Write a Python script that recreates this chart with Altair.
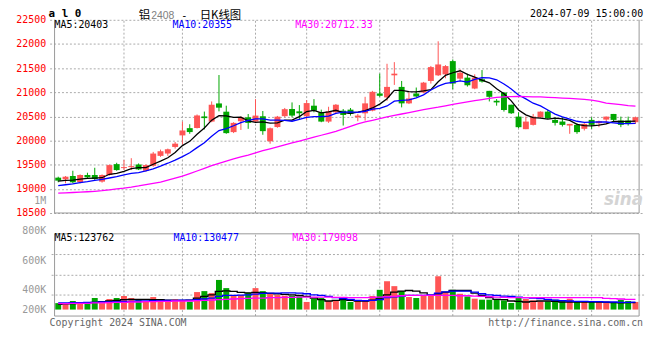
import altair as alt
import pandas as pd

# ---------------- data ----------------
dates = ["03-12", "03-13", "03-14", "03-15", "03-18", "03-19", "03-20", "03-21", "03-22", "03-25",
         "03-26", "03-27", "03-28", "03-29", "04-01", "04-02", "04-03", "04-08", "04-09", "04-10",
         "04-11", "04-12", "04-15", "04-16", "04-17", "04-18", "04-19", "04-22", "04-23", "04-24",
         "04-25", "04-26", "04-29", "04-30", "05-06", "05-07", "05-08", "05-09", "05-10", "05-13",
         "05-14", "05-15", "05-16", "05-17", "05-20", "05-21", "05-22", "05-23", "05-24", "05-27",
         "05-28", "05-29", "05-30", "05-31", "06-03", "06-04", "06-05", "06-06", "06-07", "06-11",
         "06-12", "06-13", "06-14", "06-17", "06-18", "06-19", "06-20", "06-21", "06-24", "06-25",
         "06-26", "06-27", "06-28", "07-01", "07-02", "07-03", "07-04", "07-05", "07-08", "07-09"]

opens = [19232, 19198, 19266, 19136, 19287, 19287, 19150, 19287, 19512, 19430,
         19450, 19505, 19375, 19478, 19683, 19731, 19868, 20107, 20257, 20260,
         20500, 20393, 20769, 20598, 20175, 20400, 20482, 20393, 20503, 19985,
         20280, 20505, 20653, 20605, 20503, 20722, 20585, 20393, 20585, 20619,
         20640, 20482, 20564, 20619, 20975, 20893, 21351, 21111, 20770, 20975,
         20995, 21234, 21351, 21371, 21645, 21282, 21303, 21077, 21269, 21029,
         20824, 20995, 20742, 20496, 20236, 20325, 20482, 20599, 20428, 20394,
         20311, 20325, 20243, 20428, 20359, 20434, 20551, 20414, 20414, 20380]
highs = [19252, 19266, 19375, 19300, 19334, 19437, 19300, 19505, 19540, 19600,
         19635, 19526, 19505, 19765, 19813, 19834, 19970, 20393, 20338, 20540,
         20600, 20810, 21357, 20722, 20380, 20500, 20550, 20858, 20612, 20270,
         20510, 20675, 20790, 20735, 20838, 20858, 20640, 20700, 20756, 20653,
         20674, 20551, 20906, 21029, 21385, 21590, 21624, 21234, 20995, 21098,
         21214, 21545, 22055, 21562, 21679, 21474, 21385, 21371, 21460, 21029,
         20858, 21000, 20742, 20585, 20496, 20551, 20605, 20633, 20482, 20482,
         20345, 20360, 20360, 20482, 20414, 20496, 20551, 20496, 20496, 20496]
lows = [19136, 19115, 19115, 19115, 19218, 19184, 19129, 19273, 19375, 19389,
        19389, 19389, 19355, 19457, 19663, 19683, 19834, 19920, 20140, 20250,
        20230, 20380, 20605, 20140, 20155, 20220, 20243, 20380, 20120, 19935,
        20265, 20482, 20482, 20435, 20428, 20585, 20380, 20366, 20564, 20311,
        20517, 20400, 20414, 20605, 20906, 20824, 21152, 20687, 20756, 20900,
        20981, 21180, 21337, 21289, 21063, 21234, 21118, 21063, 21200, 20810,
        20722, 20600, 20551, 20257, 20236, 20311, 20470, 20448, 20311, 20291,
        20140, 20140, 20209, 20243, 20277, 20345, 20400, 20277, 20311, 20345]
closes = [19170, 19252, 19136, 19287, 19239, 19204, 19287, 19492, 19389, 19450,
          19471, 19403, 19492, 19731, 19779, 19820, 19936, 20209, 20176, 20520,
          20465, 20742, 20681, 20154, 20366, 20480, 20366, 20517, 20195, 20255,
          20495, 20650, 20517, 20565, 20776, 20619, 20393, 20605, 20742, 20530,
          20551, 20517, 20770, 21009, 20927, 21111, 21385, 20770, 20872, 20913,
          21200, 21521, 21576, 21542, 21180, 21405, 21145, 21303, 21221, 20906,
          20790, 20633, 20565, 20277, 20393, 20496, 20599, 20462, 20366, 20325,
          20345, 20175, 20345, 20325, 20400, 20496, 20428, 20325, 20345, 20482]

ma5 = [19160, 19175, 19180, 19200, 19217, 19224, 19231, 19302, 19322, 19364,
       19418, 19441, 19441, 19509, 19575, 19645, 19752, 19895, 19984, 20132,
       20261, 20422, 20517, 20512, 20482, 20485, 20409, 20377, 20385, 20363,
       20366, 20422, 20422, 20496, 20601, 20625, 20574, 20592, 20627, 20578,
       20564, 20589, 20622, 20675, 20755, 20867, 21040, 21040, 21013, 21010,
       21028, 21055, 21216, 21350, 21404, 21445, 21370, 21315, 21251, 21196,
       21073, 20971, 20823, 20634, 20532, 20473, 20466, 20445, 20463, 20450,
       20419, 20335, 20311, 20303, 20318, 20348, 20399, 20395, 20399, 20403]
ma10 = [19065, 19085, 19105, 19130, 19150, 19175, 19195, 19225, 19255, 19291,
        19321, 19336, 19371, 19416, 19470, 19531, 19596, 19668, 19747, 19854,
        19953, 20087, 20206, 20248, 20307, 20373, 20416, 20447, 20449, 20422,
        20425, 20416, 20400, 20441, 20482, 20496, 20498, 20507, 20562, 20589,
        20595, 20582, 20607, 20651, 20666, 20716, 20815, 20831, 20844, 20883,
        20947, 21048, 21128, 21182, 21207, 21236, 21212, 21266, 21301, 21300,
        21259, 21170, 21069, 20943, 20864, 20773, 20718, 20634, 20549, 20491,
        20446, 20400, 20378, 20383, 20384, 20384, 20367, 20353, 20351, 20355]
ma30 = [18910, 18918, 18925, 18932, 18940, 18950, 18962, 18980, 19000, 19015,
        19035, 19060, 19090, 19115, 19140, 19180, 19220, 19262, 19315, 19370,
        19425, 19480, 19530, 19575, 19620, 19660, 19700, 19745, 19790, 19830,
        19870, 19910, 19950, 19990, 20030, 20070, 20110, 20150, 20190, 20240,
        20295, 20345, 20385, 20420, 20455, 20490, 20520, 20550, 20580, 20610,
        20640, 20665, 20690, 20720, 20750, 20775, 20800, 20825, 20850, 20875,
        20895, 20905, 20910, 20912, 20910, 20905, 20905, 20895, 20888, 20880,
        20872, 20865, 20855, 20835, 20810, 20775, 20760, 20745, 20725, 20712]

volumes = [114000, 96000, 152000, 131000, 102000, 205000, 114000, 187000, 205000, 240000,
           205000, 175000, 152000, 222000, 158000, 152000, 184000, 166000, 140000, 310000,
           327000, 292000, 525000, 380000, 248000, 257000, 298000, 380000, 327000, 292000,
           257000, 245000, 245000, 236000, 135000, 189000, 205000, 152000, 152000, 205000,
           135000, 152000, 170000, 240000, 350000, 502000, 415000, 327000, 222000, 205000,
           250000, 250000, 590000, 310000, 350000, 280000, 233000, 193000, 175000, 175000,
           175000, 163000, 117000, 205000, 187000, 163000, 145000, 145000, 175000, 145000,
           193000, 145000, 145000, 145000, 135000, 145000, 135000, 175000, 152000, 135000]
vma5 = [93000, 99000, 105000, 111000, 117000, 128000, 140000, 152000, 163000, 175000,
        181000, 181000, 181000, 175000, 175000, 169000, 163000, 163000, 169000, 204000,
        233000, 262000, 321000, 332000, 321000, 303000, 297000, 303000, 297000, 286000,
        280000, 268000, 262000, 251000, 233000, 204000, 175000, 152000, 163000, 175000,
        163000, 152000, 152000, 169000, 204000, 262000, 309000, 327000, 338000, 327000,
        297000, 251000, 280000, 309000, 338000, 338000, 338000, 292000, 251000, 210000,
        181000, 175000, 152000, 146000, 134000, 146000, 152000, 152000, 146000, 134000,
        134000, 134000, 134000, 134000, 134000, 128000, 123000, 117000, 123000, 123762]
vma10 = [117000, 117000, 122000, 122000, 128000, 128000, 134000, 134000, 140000, 146000,
         146000, 152000, 152000, 157000, 157000, 163000, 163000, 169000, 169000, 175000,
         187000, 204000, 233000, 251000, 251000, 257000, 262000, 274000, 286000, 292000,
         292000, 297000, 297000, 292000, 280000, 262000, 251000, 233000, 210000, 192000,
         181000, 163000, 157000, 163000, 175000, 210000, 227000, 239000, 251000, 251000,
         251000, 262000, 292000, 315000, 327000, 327000, 327000, 309000, 280000, 262000,
         251000, 239000, 233000, 222000, 210000, 204000, 192000, 181000, 169000, 157000,
         152000, 146000, 146000, 140000, 140000, 134000, 134000, 128000, 128000, 130477]
vma30 = [105000, 105000, 111000, 111000, 111000, 117000, 117000, 122000, 128000, 128000,
         134000, 134000, 140000, 140000, 146000, 146000, 152000, 152000, 152000, 157000,
         163000, 169000, 175000, 181000, 187000, 192000, 198000, 204000, 204000, 210000,
         210000, 216000, 216000, 222000, 222000, 222000, 222000, 222000, 216000, 216000,
         210000, 210000, 210000, 216000, 222000, 227000, 233000, 245000, 251000, 251000,
         251000, 251000, 251000, 251000, 251000, 245000, 245000, 239000, 233000, 227000,
         222000, 216000, 210000, 210000, 210000, 210000, 210000, 210000, 210000, 210000,
         210000, 210000, 210000, 210000, 210000, 198000, 192000, 187000, 181000, 179098]

tick_dates = ["03-12", "03-25", "04-08", "04-22", "05-06", "05-20", "06-03", "06-17", "07-01"]
price_ticks = [18500, 19000, 19500, 20000, 20500, 21000, 21500, 22000, 22500]
period_text = "1M"
period_at = 18750
vol_tick_text = ["800K", "600K", "400K", "200K"]
vol_tick_at = [1342000, 817000, 304500, -45500]
vol_grid_at = [975000, 607000, 257000]
price_domain = [18500, 22500]
vol_domain = [-115000, 1342000]

price_ma_text = ["MA5:20403", "MA10:20355", "MA30:20712.33"]
vol_ma_text = ["MA5:123762", "MA10:130477", "MA30:179098"]
header_code = "a l 0"
title_a, title_b, title_c, title_d = "铝", "2408", "-", "日K线图"
stamp = "2024-07-09 15:00:00"
copyright_text = "Copyright 2024 SINA.COM"
url_text = "http://finance.sina.com.cn"

# ---------------- styling ----------------
RED, GREEN = "#FF5555", "#00A600"
BLUE_LINE, MAG = "#0000FF", "#FF00FF"
GRID, FRAME = "#aaaaaa", "#999999"
MONO = "DejaVu Sans Mono"
CJK = "Noto Sans CJK SC"
W, H = 600, 299
P_TOP, P_BOT = 0, 195
V_TOP, V_BOT = 216, 299

n = len(dates)
df = pd.DataFrame({
    "i": list(range(n)), "date": dates, "open": opens, "high": highs, "low": lows,
    "close": closes, "vol": volumes, "ma5": ma5, "ma10": ma10, "ma30": ma30,
    "vma5": vma5, "vma10": vma10, "vma30": vma30,
})
df["dir"] = ["up" if c >= o else "down" for o, c in zip(opens, closes)]
tick_idx = [dates.index(d) for d in tick_dates]

xs = alt.Scale(domain=[-0.5, n - 0.5], nice=False, zero=False)
ps = alt.Scale(domain=price_domain, range=[P_BOT, P_TOP], nice=False, zero=False)
vs = alt.Scale(domain=vol_domain, range=[V_BOT, V_TOP], nice=False, zero=False)
color = alt.Color("dir:N", scale=alt.Scale(domain=["up", "down"], range=[RED, GREEN]), legend=None)
xnone = alt.X("i:Q", scale=xs, axis=None)

label_expr = "[" + ",".join("'%s'" % d for d in dates) + "][datum.value]"
x_axis = alt.Axis(values=tick_idx, labelExpr=label_expr, offset=P_BOT - H, domain=False,
                  ticks=False, tickSize=0, grid=False, labelColor="#0066CC", labelFont=MONO,
                  labelFontSize=10, labelPadding=3, labelAngle=0, labelFlush=False,
                  labelOverlap=False, title=None)
p_axis = alt.Axis(values=price_ticks + [period_at], format="d",
                  labelExpr="datum.value == %d ? '%s' : datum.label" % (period_at, period_text),
                  orient="left", domain=False, ticks=False, tickSize=0, grid=True,
                  gridColor=GRID, gridDash=[2, 2],
                  gridOpacity={"condition": {"test": "datum.value == %d" % period_at, "value": 0}, "value": 1},
                  labelColor={"condition": {"test": "datum.value == %d" % period_at, "value": "#999999"}, "value": "#FF0000"},
                  labelFont=MONO, labelFontSize=10, labelPadding=4, labelFlush=False,
                  labelOverlap=False, title=None)
v_expr = " : ".join("datum.value == %d ? '%s'" % (v, t) for v, t in zip(vol_tick_at, vol_tick_text)) + " : ''"
v_axis = alt.Axis(values=vol_tick_at, labelExpr=v_expr, orient="left", domain=False, ticks=False,
                  tickSize=0, grid=False, labelColor="#999999", labelFont=MONO, labelFontSize=10,
                  labelPadding=4, labelBaseline="alphabetic", labelFlush=False, labelOverlap=False,
                  title=None)

base = alt.Chart(df)

# grid lines
gp = pd.DataFrame({"i": tick_idx[1:], "lo": price_domain[0], "hi": price_domain[1]})
vgrid_p = alt.Chart(gp).mark_rule(color=GRID, strokeDash=[2, 2], strokeWidth=1).encode(
    x=xnone, y=alt.Y("lo:Q", scale=ps, axis=None), y2="hi:Q")
gv = pd.DataFrame({"i": tick_idx[1:], "lo": vol_domain[0], "hi": vol_domain[1]})
vgrid_v = alt.Chart(gv).mark_rule(color=GRID, strokeDash=[2, 2], strokeWidth=1).encode(
    x=xnone, y=alt.Y("lo:Q", scale=vs, axis=None), y2="hi:Q")
hgrid_v = alt.Chart(pd.DataFrame({"v": vol_grid_at})).mark_rule(
    color=GRID, strokeDash=[2, 2], strokeWidth=1).encode(y=alt.Y("v:Q", scale=vs, axis=None))

# panel frames (price panel: left, right and bottom solid; top is the dotted grid line)
lo_p, hi_p = price_domain
fp = pd.DataFrame({"x0": [-0.5, n - 0.5, -0.5], "x1": [-0.5, n - 0.5, n - 0.5],
                   "y0": [lo_p, lo_p, lo_p], "y1": [hi_p, hi_p, lo_p]})
frame_p = alt.Chart(fp).mark_rule(color=FRAME, strokeWidth=1).encode(
    x=alt.X("x0:Q", scale=xs, axis=None), x2="x1:Q", y=alt.Y("y0:Q", scale=ps, axis=None), y2="y1:Q")
fv = pd.DataFrame({"x0": [-0.5], "x1": [n - 0.5], "y0": [vol_domain[0]], "y1": [vol_domain[1]]})
frame_v = alt.Chart(fv).mark_rect(fillOpacity=0, stroke=FRAME, strokeWidth=1).encode(
    x=alt.X("x0:Q", scale=xs, axis=None), x2="x1:Q", y=alt.Y("y0:Q", scale=vs, axis=None), y2="y1:Q")

# candles
wicks = base.mark_rule(strokeWidth=1).encode(
    x=xnone, y=alt.Y("low:Q", scale=ps, axis=None), y2="high:Q", color=color)
bodies = base.mark_bar(size=6).encode(
    x=alt.X("i:Q", scale=xs, axis=x_axis), y=alt.Y("open:Q", scale=ps, axis=p_axis),
    y2="close:Q", color=color)
l5 = base.mark_line(color="#000000", strokeWidth=1.3).encode(x=xnone, y=alt.Y("ma5:Q", scale=ps, axis=None))
l10 = base.mark_line(color=BLUE_LINE, strokeWidth=1.3).encode(x=xnone, y=alt.Y("ma10:Q", scale=ps, axis=None))
l30 = base.mark_line(color=MAG, strokeWidth=1.3).encode(x=xnone, y=alt.Y("ma30:Q", scale=ps, axis=None))

# volume
vbars = base.mark_bar(size=6).encode(
    x=xnone, y=alt.Y("vol:Q", scale=vs, axis=v_axis), y2=alt.datum(0), color=color)
v5 = base.mark_line(color="#000000", strokeWidth=1.3, interpolate="step").encode(
    x=xnone, y=alt.Y("vma5:Q", scale=vs, axis=None))
v10 = base.mark_line(color=BLUE_LINE, strokeWidth=1.3, interpolate="step").encode(
    x=xnone, y=alt.Y("vma10:Q", scale=vs, axis=None))
v30 = base.mark_line(color=MAG, strokeWidth=1.3, interpolate="step").encode(
    x=xnone, y=alt.Y("vma30:Q", scale=vs, axis=None))


def label(text, x, y, color="#000000", size=10, align="left", font=MONO, weight="normal", style="normal"):
    return alt.Chart(pd.DataFrame({"t": [text]})).mark_text(
        align=align, baseline="alphabetic", font=font, fontSize=size, color=color,
        fontWeight=weight, fontStyle=style).encode(text="t:N", x=alt.value(x), y=alt.value(y))


texts = [
    label(header_code, -1, -2.5, size=11, weight="bold"),
    label(title_a, 90, -0.4, size=11.5, font=CJK),
    label(title_b, 102.5, -1.2, color="#808080", size=10.5, font="Liberation Sans"),
    label(title_c, 134, -1.2, size=11, font="Liberation Sans"),
    label(title_d, 151.5, -0.4, size=11.5, font=CJK),
    label(stamp, 599, -2.5, align="right"),
    label(price_ma_text[0], 5, 8.4),
    label(price_ma_text[1], 124, 8.4, color=BLUE_LINE),
    label(price_ma_text[2], 248, 8.4, color=MAG),
    label(vol_ma_text[0], 5, 223.7),
    label(vol_ma_text[1], 125, 223.7, color=BLUE_LINE),
    label(vol_ma_text[2], 245, 223.7, color=MAG),
    label(copyright_text, 0, 308.7, color="#666666"),
    label(url_text, 599, 308.7, color="#666666", align="right"),
    label("sina", 599, 186.5, color="#d4d4d4", size=17, align="right", font="DejaVu Sans",
          weight="bold", style="italic"),
]

chart = alt.layer(
    vgrid_p, vgrid_v, hgrid_v, wicks, bodies, l5, l10, l30, vbars, v5, v10, v30,
    frame_p, frame_v, *texts
).resolve_scale(y="independent").properties(
    width=W, height=H,
    autosize=alt.AutoSizeParams(type="none"),
    padding={"left": 42, "top": 10.3, "right": 8, "bottom": 40},
    background="white",
).configure_view(strokeWidth=0)

chart.save("out.html", embed_options={"renderer": "svg", "actions": False})
